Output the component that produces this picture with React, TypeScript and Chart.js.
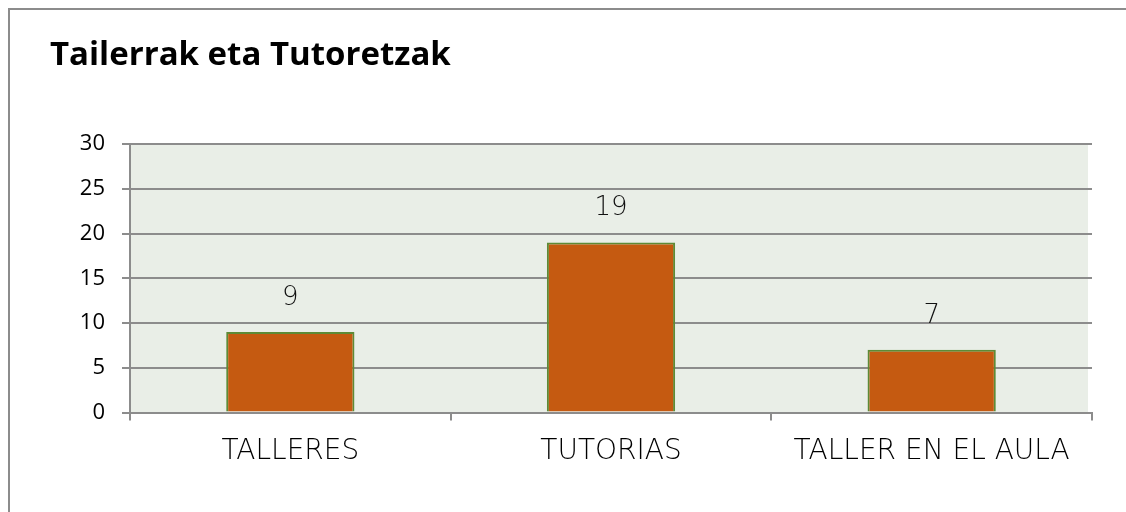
import React, { useEffect, useRef } from "react";
import { Chart, registerables } from "chart.js";

Chart.register(...registerables);

const title = "Tailerrak eta Tutoretzak";
const categories = ["TALLERES", "TUTORIAS", "TALLER EN EL AULA"];
const values = [9, 19, 7];
const yMin = 0;
const yMax = 30;
const yStep = 5;

const PAPYRUS = "'DejaVu Sans', sans-serif";
const CALIBRI = "'Open Sans', 'Liberation Sans', sans-serif";

const plotBg = {
  id: "plotBg",
  beforeDraw(chart: any) {
    const { ctx, chartArea } = chart;
    ctx.save();
    ctx.fillStyle = "#E9EEE7";
    ctx.fillRect(chartArea.left, chartArea.top, chartArea.right - chartArea.left - 4, chartArea.bottom - chartArea.top);
    ctx.restore();
  },
};

const valueLabels = {
  id: "valueLabels",
  afterDatasetsDraw(chart: any) {
    const { ctx } = chart;
    const meta = chart.getDatasetMeta(0);
    ctx.save();
    ctx.font = `200 26px ${PAPYRUS}`;
    ctx.fillStyle = "#111";
    ctx.textAlign = "center";
    ctx.textBaseline = "middle";
    meta.data.forEach((bar: any, i: number) => {
      ctx.fillText(String(values[i]), bar.x, bar.y - 34);
    });
    ctx.restore();
  },
};

export default function App() {
  const ref = useRef<HTMLCanvasElement>(null);
  useEffect(() => {
    if (!ref.current) return;
    const chart = new Chart(ref.current, {
      type: "bar",
      data: {
        labels: categories,
        datasets: [
          {
            data: values,
            backgroundColor: "#C55A11",
            borderColor: "#5E8A36",
            borderWidth: 2,
            barPercentage: 0.5,
            categoryPercentage: 0.8,
          },
        ],
      },
      options: {
        animation: false,
        responsive: false,
        maintainAspectRatio: false,
        layout: { padding: { left: 40, right: 34, top: 0, bottom: 0 } },
        plugins: {
          legend: { display: false },
          tooltip: { enabled: false },
          title: {
            display: true,
            text: title,
            align: "start",
            color: "#000",
            font: { family: CALIBRI, size: 33, weight: "bold" },
            padding: { top: 26, bottom: 68.4 },
          },
        },
        scales: {
          x: {
            grid: {
              display: true,
              drawOnChartArea: false,
              drawTicks: true,
              tickLength: 8,
              offset: true,
              color: "#8C8C8C",
              lineWidth: 2,
            },
            border: { display: true, color: "#8C8C8C", width: 2 },
            ticks: {
              color: "#000",
              padding: 14,
              font: { family: PAPYRUS, size: 28, weight: "200" },
              maxRotation: 0,
              autoSkip: false,
            },
            afterFit(scale: any) {
              scale.height = 91.5;
            },
          },
          y: {
            min: yMin,
            max: yMax,
            grid: {
              color: "#8C8C8C",
              lineWidth: 2,
              drawTicks: true,
              tickLength: 8,
            },
            border: { display: true, color: "#8C8C8C", width: 2 },
            ticks: {
              stepSize: yStep,
              color: "#000",
              padding: 17,
              font: { family: CALIBRI, size: 22 },
            },
            afterFit(scale: any) {
              scale.width = 80;
            },
          },
        },
      },
      plugins: [plotBg, valueLabels],
    });
    return () => chart.destroy();
  }, []);

  return (
    <div
      style={{
        position: "fixed",
        left: 0,
        top: 0,
        width: "100vw",
        height: "100vh",
        overflow: "hidden",
        background: "#fff",
      }}
    >
      <div
        style={{
          position: "absolute",
          left: 8,
          top: 8,
          width: 1300,
          height: 700,
          boxSizing: "border-box",
          border: "2px solid #8C8C8C",
          background: "#fff",
        }}
      >
        <canvas ref={ref} width={1116} height={494} style={{ display: "block" }} />
      </div>
    </div>
  );
}
